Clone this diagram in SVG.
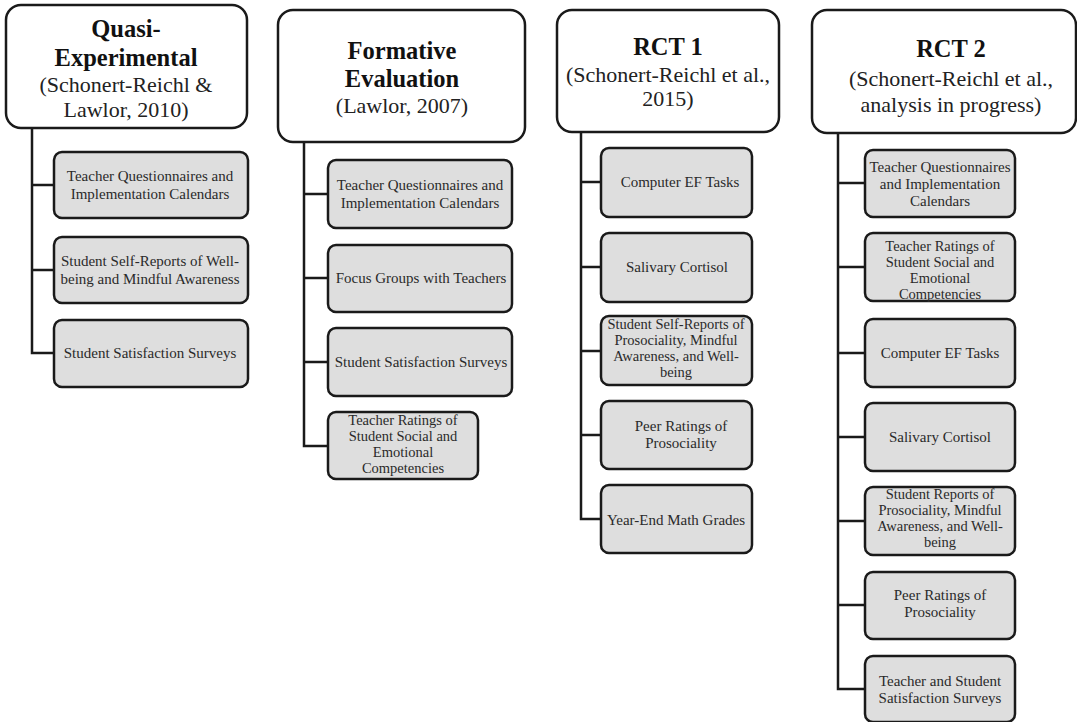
<svg xmlns="http://www.w3.org/2000/svg" width="1077" height="722" viewBox="0 0 1077 722">
<style>
.hdr{fill:#fff;stroke:#1a1a1a;stroke-width:2.5}
.box{fill:#dedede;stroke:#1a1a1a;stroke-width:2.5}
.t{font-family:"Liberation Serif","Times New Roman",serif;text-anchor:middle}
.h1{font-size:24.5px;font-weight:bold;fill:#111}
.h2{font-size:22px;fill:#222}
.b{font-size:15px;fill:#2a2a2a}
.b4{font-size:14.5px;fill:#2a2a2a}
.con{fill:none;stroke:#1a1a1a;stroke-width:2.5}
</style>
<rect width="1077" height="722" fill="#fff"/>
<g id="connectors">
<path class="con" d="M32,128 V353 H54 M32,185 H54 M32,270 H54"/>
<path class="con" d="M304,142 V446 H328 M304,194 H328 M304,278 H328 M304,362 H328"/>
<path class="con" d="M581,132 V519 H601 M581,182 H601 M581,267 H601 M581,351 H601 M581,435 H601"/>
<path class="con" d="M838,133 V689 H865 M838,183 H865 M838,267 H865 M838,353 H865 M838,437 H865 M838,521 H865 M838,605 H865"/>
</g>
<g id="h1"><rect class="hdr" x="6" y="5" width="241" height="123" rx="15"/>
<text class="t h1" x="126" y="37">Quasi-</text><text class="t h1" x="126" y="66">Experimental</text>
<text class="t h2" x="126" y="92">(Schonert-Reichl &amp;</text><text class="t h2" x="126" y="117">Lawlor, 2010)</text></g>
<g id="h2"><rect class="hdr" x="278" y="10" width="247" height="132" rx="15"/>
<text class="t h1" x="402" y="59">Formative</text><text class="t h1" x="402" y="87">Evaluation</text>
<text class="t h2" x="402" y="113">(Lawlor, 2007)</text></g>
<g id="h3"><rect class="hdr" x="557" y="10" width="222" height="122" rx="15"/>
<text class="t h1" x="668" y="55">RCT 1</text>
<text class="t h2" x="668" y="82">(Schonert-Reichl et al.,</text><text class="t h2" x="668" y="106">2015)</text></g>
<g id="h4"><rect class="hdr" x="812" y="10" width="264" height="123" rx="15"/>
<text class="t h1" x="951" y="57">RCT 2</text>
<text class="t h2" x="951" y="86">(Schonert-Reichl et al.,</text><text class="t h2" x="951" y="112">analysis in progress)</text></g>

<g id="c1b1"><rect class="box" x="54" y="152" width="194" height="66" rx="8"/>
<text class="t b" x="150" y="181">Teacher Questionnaires and</text><text class="t b" x="150" y="199">Implementation Calendars</text></g>
<g id="c1b2"><rect class="box" x="54" y="237" width="194" height="66" rx="8"/>
<text class="t b" x="150" y="266">Student Self-Reports of Well-</text><text class="t b" x="150" y="284">being and Mindful Awareness</text></g>
<g id="c1b3"><rect class="box" x="54" y="320" width="194" height="67" rx="8"/>
<text class="t b" x="150" y="358">Student Satisfaction Surveys</text></g>

<g id="c2b1"><rect class="box" x="328" y="160" width="184" height="68" rx="8"/>
<text class="t b" x="420" y="190">Teacher Questionnaires and</text><text class="t b" x="420" y="208">Implementation Calendars</text></g>
<g id="c2b2"><rect class="box" x="328" y="245" width="184" height="67" rx="8"/>
<text class="t b" x="421" y="283">Focus Groups with Teachers</text></g>
<g id="c2b3"><rect class="box" x="328" y="328" width="184" height="68" rx="8"/>
<text class="t b" x="421" y="367">Student Satisfaction Surveys</text></g>
<g id="c2b4"><rect class="box" x="328" y="412" width="150" height="67" rx="8"/>
<text class="t b4" x="403" y="425">Teacher Ratings of</text><text class="t b4" x="403" y="441">Student Social and</text>
<text class="t b4" x="403" y="457">Emotional</text><text class="t b4" x="403" y="473">Competencies</text></g>

<g id="c3b1"><rect class="box" x="601" y="148" width="151" height="69" rx="8"/>
<text class="t b" x="680" y="187">Computer EF Tasks</text></g>
<g id="c3b2"><rect class="box" x="601" y="233" width="151" height="69" rx="8"/>
<text class="t b" x="677" y="272">Salivary Cortisol</text></g>
<g id="c3b3"><rect class="box" x="601" y="316" width="151" height="69" rx="8"/>
<text class="t b4" x="676" y="329">Student Self-Reports of</text><text class="t b4" x="676" y="345">Prosociality, Mindful</text>
<text class="t b4" x="676" y="361">Awareness, and Well-</text><text class="t b4" x="676" y="377">being</text></g>
<g id="c3b4"><rect class="box" x="601" y="401" width="151" height="68" rx="8"/>
<text class="t b" x="681" y="431">Peer Ratings of</text><text class="t b" x="681" y="448">Prosociality</text></g>
<g id="c3b5"><rect class="box" x="601" y="485" width="151" height="68" rx="8"/>
<text class="t b" x="676" y="525">Year-End Math Grades</text></g>

<g id="c4b1"><rect class="box" x="865" y="150" width="150" height="67" rx="8"/>
<text class="t b" x="940" y="172">Teacher Questionnaires</text><text class="t b" x="940" y="189">and Implementation</text><text class="t b" x="940" y="206">Calendars</text></g>
<g id="c4b2"><rect class="box" x="865" y="233" width="150" height="68" rx="8"/>
<text class="t b4" x="940" y="251">Teacher Ratings of</text><text class="t b4" x="940" y="267">Student Social and</text>
<text class="t b4" x="940" y="283">Emotional</text><text class="t b4" x="940" y="299">Competencies</text></g>
<g id="c4b3"><rect class="box" x="865" y="319" width="150" height="68" rx="8"/>
<text class="t b" x="940" y="358">Computer EF Tasks</text></g>
<g id="c4b4"><rect class="box" x="865" y="403" width="150" height="68" rx="8"/>
<text class="t b" x="940" y="442">Salivary Cortisol</text></g>
<g id="c4b5"><rect class="box" x="865" y="487" width="150" height="68" rx="8"/>
<text class="t b4" x="940" y="499">Student Reports of</text><text class="t b4" x="940" y="515">Prosociality, Mindful</text>
<text class="t b4" x="940" y="531">Awareness, and Well-</text><text class="t b4" x="940" y="547">being</text></g>
<g id="c4b6"><rect class="box" x="865" y="572" width="150" height="67" rx="8"/>
<text class="t b" x="940" y="600">Peer Ratings of</text><text class="t b" x="940" y="617">Prosociality</text></g>
<g id="c4b7"><rect class="box" x="865" y="656" width="150" height="66" rx="8"/>
<text class="t b" x="940" y="686">Teacher and Student</text><text class="t b" x="940" y="703">Satisfaction Surveys</text></g>
</svg>
